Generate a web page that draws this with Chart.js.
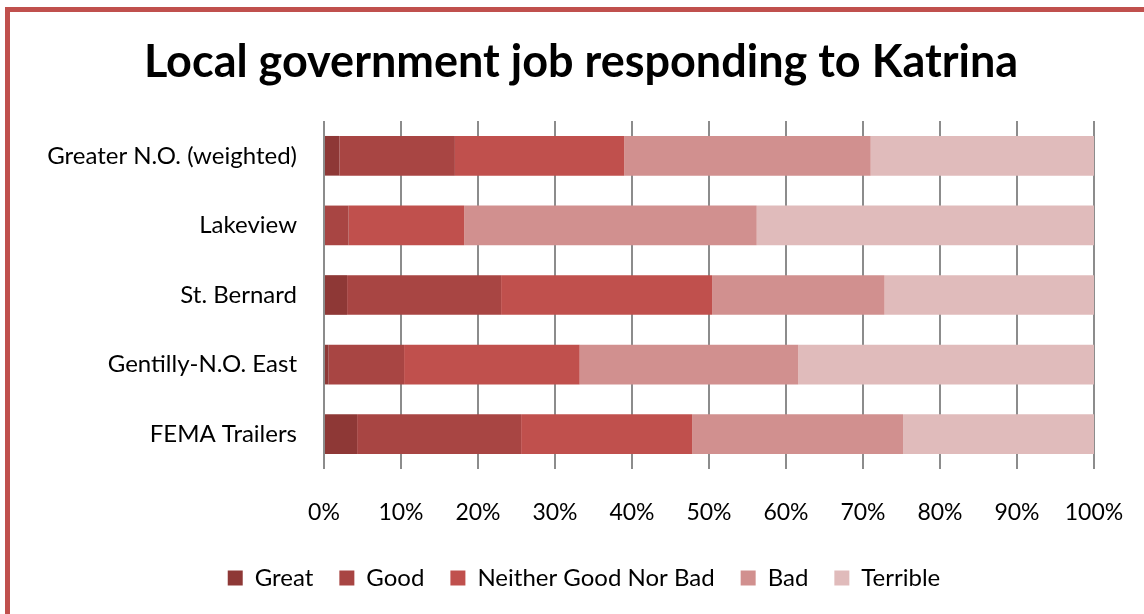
<!DOCTYPE html>
<html>
<head>
<meta charset="utf-8">
<script src="https://cdn.jsdelivr.net/npm/chart.js@4/dist/chart.umd.min.js"></script>
<style>
  html, body { margin: 0; padding: 0; background: #fff; overflow: hidden; }
  #wrap { position: absolute; left: 0; top: 0; width: 1144px; height: 614px; }
  #frame { position: absolute; left: 5px; top: 7px; width: 1300px; height: 800px;
           border: 5px solid #C0504D; pointer-events: none; }
</style>
</head>
<body>
<div id="wrap"><canvas id="c" width="1144" height="614"></canvas></div>
<div id="frame"></div>
<script>
const categories = ['Greater N.O. (weighted)', 'Lakeview', 'St. Bernard', 'Gentilly-N.O. East', 'FEMA Trailers'];
const seriesNames = ['Great', 'Good', 'Neither Good Nor Bad', 'Bad', 'Terrible'];
const great    = [2,   0,    3,    0.6,  4.3];
const good     = [15,  3.2,  20,   9.8,  21.3];
const neither  = [22,  15,   27.4, 22.8, 22.2];
const bad      = [32,  38,   22.4, 28.4, 27.4];
const terrible = [29,  43.8, 27.2, 38.4, 24.8];
const colors = ['#8E3836', '#A84543', '#C0504D', '#D1908F', '#E0BBBB'];

const FONT = 'Lato, "Open Sans", sans-serif';
const values = [great, good, neither, bad, terrible];

const boxShift = {
  id: 'boxShift',
  afterLayout(chart) {
    const lg = chart.legend;
    if (lg) { lg.left += 37; lg.right += 37; }
    const tb = chart.titleBlock;
    if (tb) { tb.left += 34; tb.right += 34; }
  }
};

new Chart(document.getElementById('c'), {
  type: 'bar',
  data: {
    labels: categories,
    datasets: seriesNames.map((n, i) => ({
      label: n,
      data: values[i],
      backgroundColor: colors[i],
      borderWidth: 0,
      categoryPercentage: 1,
      barPercentage: 0.57
    }))
  },
  plugins: [boxShift],
  options: {
    indexAxis: 'y',
    responsive: false,
    animation: false,
    layout: { padding: { left: 0, right: 50, top: 0, bottom: 14 } },
    plugins: {
      tooltip: { enabled: false },
      title: {
        display: true,
        text: 'Local government job responding to Katrina',
        color: '#000',
        font: { family: FONT, size: 45, weight: 'bold', lineHeight: 1.2 },
        padding: { top: 35, bottom: 32 }
      },
      legend: {
        position: 'bottom',
        labels: {
          color: '#000',
          font: { family: FONT, size: 24 },
          boxWidth: 15,
          boxHeight: 15,
          padding: 26
        }
      }
    },
    scales: {
      x: {
        stacked: true,
        min: 0,
        max: 100,
        ticks: {
          stepSize: 10,
          color: '#000',
          font: { family: FONT, size: 23 },
          padding: 0,
          callback: v => v + '%'
        },
        grid: { color: '#8c8c8c', lineWidth: 2, drawTicks: true, tickLength: 30, tickColor: 'rgba(0,0,0,0)' },
        border: { display: false },
        afterFit: s => { s.height = 71; }
      },
      y: {
        stacked: true,
        ticks: {
          color: '#000',
          font: { family: FONT, size: 24 },
          padding: 27
        },
        grid: { display: false, drawTicks: false },
        border: { display: false },
        afterFit: s => { s.width = 324; }
      }
    }
  }
});
</script>
</body>
</html>
